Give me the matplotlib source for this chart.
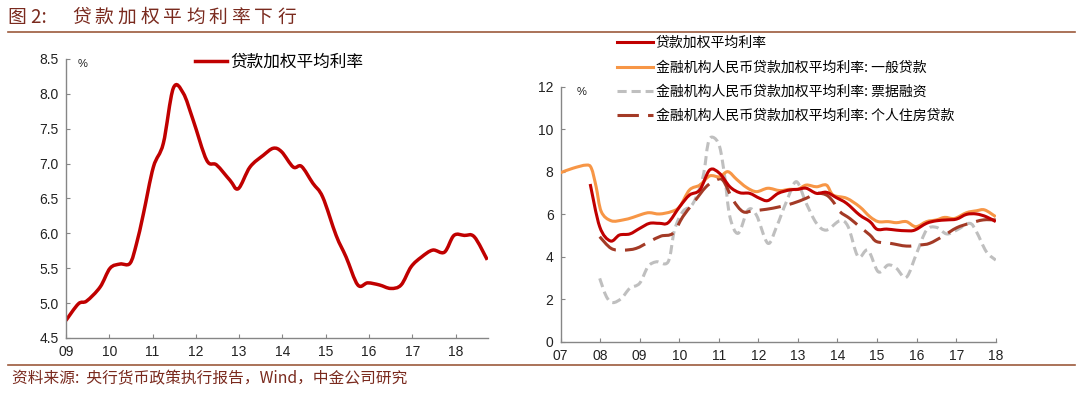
import numpy as np
import matplotlib
matplotlib.use('Agg')
from matplotlib import pyplot as plt
from matplotlib.path import Path
from matplotlib.patches import PathPatch
from matplotlib.lines import Line2D

plt.rcParams['font.family'] = ['Noto Sans CJK SC', 'DejaVu Sans']

# left panel: weighted average loan rate
left_x = [9.00, 9.29, 9.48, 9.79, 10.02, 10.25, 10.48, 10.63, 10.79, 11.02,
          11.25, 11.48, 11.71, 11.94, 12.25, 12.48, 12.79, 12.98, 13.25, 13.56,
          13.79, 13.98, 14.25, 14.44, 14.70, 14.93, 15.24, 15.47, 15.74, 15.97,
          16.24, 16.50, 16.74, 16.97, 17.21, 17.47, 17.74, 17.96, 18.20, 18.43,
          18.73]
left_y = [4.75, 4.99, 5.03, 5.23, 5.50, 5.56, 5.57, 5.85, 6.28, 6.95,
          7.29, 8.08, 8.01, 7.62, 7.05, 6.98, 6.76, 6.64, 6.95, 7.12,
          7.22, 7.17, 6.95, 6.96, 6.72, 6.52, 5.97, 5.66, 5.26, 5.29,
          5.26, 5.21, 5.26, 5.52, 5.66, 5.76, 5.73, 5.97, 5.97, 5.95,
          5.62]
left_label = '贷款加权平均利率'
left_xticks = [9, 10, 11, 12, 13, 14, 15, 16, 17, 18]
left_yticks = [4.5, 5.0, 5.5, 6.0, 6.5, 7.0, 7.5, 8.0, 8.5]

# right panel
avg_x = [7.75, 7.99, 8.26, 8.49, 8.75, 9.00, 9.25, 9.50, 9.72, 10.01,
         10.26, 10.52, 10.77, 11.02, 11.28, 11.53, 11.78, 12.03, 12.24, 12.50,
         12.79, 13.00, 13.21, 13.47, 13.72, 13.97, 14.23, 14.56, 14.82, 15.00,
         15.24, 15.49, 15.74, 15.95, 16.25, 16.50, 16.76, 17.01, 17.26, 17.51,
         17.76, 18.00]
avg_y = [7.42, 5.41, 4.74, 5.02, 5.07, 5.33, 5.57, 5.57, 5.60, 6.35,
         6.90, 7.14, 8.08, 7.92, 7.29, 7.01, 6.98, 6.75, 6.64, 6.98,
         7.14, 7.17, 7.22, 6.98, 7.03, 6.78, 6.51, 5.96, 5.65, 5.29,
         5.30, 5.25, 5.22, 5.25, 5.57, 5.69, 5.73, 5.77, 5.99, 6.01,
         5.88, 5.65]

general_x = [7.00, 7.31, 7.65, 7.78, 7.90, 8.03, 8.28, 8.58, 8.83, 9.08,
             9.25, 9.50, 9.80, 10.01, 10.26, 10.52, 10.77, 11.02, 11.23, 11.45,
             11.70, 11.95, 12.24, 12.54, 12.79, 13.00, 13.21, 13.47, 13.72, 13.89,
             14.23, 14.56, 14.82, 15.03, 15.28, 15.49, 15.74, 15.98, 16.25, 16.50,
             16.71, 16.96, 17.26, 17.51, 17.72, 18.00]
general_y = [7.95, 8.16, 8.31, 8.16, 7.29, 6.12, 5.69, 5.73, 5.85, 6.01,
             6.07, 6.01, 6.12, 6.35, 7.14, 7.37, 7.80, 7.76, 8.00, 7.64,
             7.26, 7.06, 7.22, 7.11, 7.17, 7.17, 7.37, 7.29, 7.37, 6.90,
             6.75, 6.35, 5.88, 5.65, 5.65, 5.60, 5.65, 5.41, 5.65, 5.73,
             5.85, 5.80, 6.07, 6.16, 6.20, 5.88]

bill_x = [7.99, 8.16, 8.32, 8.54, 8.75, 9.00, 9.21, 9.42, 9.72, 9.88,
          10.09, 10.35, 10.60, 10.73, 10.85, 11.02, 11.15, 11.28, 11.49, 11.74,
          11.95, 12.24, 12.46, 12.71, 12.96, 13.21, 13.47, 13.72, 14.06, 14.27,
          14.52, 14.77, 15.03, 15.28, 15.49, 15.74, 16.00, 16.25, 16.50, 16.76,
          17.01, 17.34, 17.51, 17.76, 18.00]
bill_y = [2.98, 2.12, 1.84, 2.04, 2.51, 2.75, 3.53, 3.76, 3.76, 5.25,
          6.12, 6.51, 7.76, 9.33, 9.62, 9.18, 7.76, 5.88, 5.10, 6.20,
          5.96, 4.63, 5.41, 6.59, 7.53, 6.51, 5.57, 5.25, 5.69, 5.41,
          4.00, 4.31, 3.29, 3.61, 3.45, 3.03, 4.16, 5.25, 5.38, 5.07,
          5.25, 5.57, 5.18, 4.24, 3.84]

house_x = [7.99, 8.28, 8.58, 8.91, 9.25, 9.54, 9.84, 10.09, 10.35, 10.68,
           10.94, 11.11, 11.36, 11.61, 11.86, 12.20, 12.54, 12.87, 13.21, 13.47,
           13.72, 13.89, 14.06, 14.31, 14.56, 14.82, 14.99, 15.33, 15.74, 16.08,
           16.33, 16.67, 17.01, 17.34, 17.68, 18.00]
house_y = [4.94, 4.39, 4.31, 4.39, 4.71, 4.97, 5.10, 5.88, 6.51, 7.29,
           7.61, 7.58, 6.67, 6.12, 6.16, 6.23, 6.35, 6.51, 6.75, 6.98,
           6.90, 6.59, 6.12, 5.80, 5.41, 5.02, 4.71, 4.63, 4.50, 4.55,
           4.63, 4.97, 5.36, 5.57, 5.73, 5.73]

right_labels = ['贷款加权平均利率',
                '金融机构人民币贷款加权平均利率: 一般贷款',
                '金融机构人民币贷款加权平均利率: 票据融资',
                '金融机构人民币贷款加权平均利率: 个人住房贷款']
right_xticks = [7, 8, 9, 10, 11, 12, 13, 14, 15, 16, 17, 18]
right_yticks = [0, 2, 4, 6, 8, 10, 12]

RED = '#C00000'
ORANGE = '#F79646'
GREY = '#BFBFBF'
BROWN = '#A33A26'
TITLE_C = '#7A2A1E'
AXIS_C = '#868686'


def year_label(v):
    return '%02d' % v


def smooth_line(ax, xs, ys, **kw):
    # excel style smoothed line: cubic bezier through the points
    p = np.column_stack([xs, ys]).astype(float)
    verts = [p[0]]
    codes = [Path.MOVETO]
    n = len(p)
    for i in range(n - 1):
        p0 = p[max(i - 1, 0)]
        p1 = p[i]
        p2 = p[i + 1]
        p3 = p[min(i + 2, n - 1)]
        verts += [p1 + (p2 - p0) / 6.0, p2 - (p3 - p1) / 6.0, p2]
        codes += [Path.CURVE4] * 3
    patch = PathPatch(Path(verts, codes), fill=False, capstyle='butt',
                      joinstyle='round', **kw)
    ax.add_patch(patch)
    return patch


def style_axes(ax):
    for s in ['top', 'right']:
        ax.spines[s].set_visible(False)
    for s in ['left', 'bottom']:
        ax.spines[s].set_color(AXIS_C)
        ax.spines[s].set_linewidth(1.0)
    ax.tick_params(direction='in', length=3, color=AXIS_C, labelsize=10,
                   labelcolor='#222222', pad=5)
    for lab in ax.get_xticklabels() + ax.get_yticklabels():
        lab.set_family(['Liberation Sans', 'DejaVu Sans'])


fig = plt.figure(figsize=(10.8, 3.93), dpi=100)

# left chart
ax1 = fig.add_axes([0.061, 0.14, 0.391, 0.71])
smooth_line(ax1, left_x, left_y, edgecolor=RED, lw=2.5)
ax1.set_xlim(9, 18.75)
ax1.set_ylim(4.5, 8.5)
ax1.set_xticks(left_xticks)
ax1.set_xticklabels([year_label(v) for v in left_xticks])
ax1.set_yticks(left_yticks)
ax1.set_yticklabels(['%.1f' % v for v in left_yticks])
style_axes(ax1)
ax1.text(0.028, 1.0, '%', transform=ax1.transAxes, fontsize=8, va='top',
         ha='left', color='#222222', family=['Liberation Sans'])
ax1.legend([Line2D([], [], color=RED, lw=2.5)], [left_label],
           loc='center left', bbox_to_anchor=(195 / 1080, 1 - 62 / 393),
           bbox_transform=fig.transFigure, frameon=False, fontsize=12,
           handlelength=1.9, handletextpad=0.2, borderpad=0, borderaxespad=0)

# right chart
ax2 = fig.add_axes([0.519, 0.1305, 0.403, 0.649])
smooth_line(ax2, bill_x, bill_y, edgecolor=GREY, lw=2.2, ls=(0, (3, 1.6)), zorder=2)
smooth_line(ax2, house_x, house_y, edgecolor=BROWN, lw=2.2, ls=(0, (7, 3)), zorder=3)
smooth_line(ax2, general_x, general_y, edgecolor=ORANGE, lw=2.2, zorder=3)
smooth_line(ax2, avg_x, avg_y, edgecolor=RED, lw=2.2, zorder=4)
ax2.set_xlim(7, 18)
ax2.set_ylim(0, 12)
ax2.set_xticks(right_xticks)
ax2.set_xticklabels([year_label(v) for v in right_xticks])
ax2.set_yticks(right_yticks)
style_axes(ax2)
ax2.text(0.038, 1.0, '%', transform=ax2.transAxes, fontsize=8, va='top',
         ha='left', color='#222222', family=['Liberation Sans'])
handles = [Line2D([], [], color=RED, lw=2.2),
           Line2D([], [], color=ORANGE, lw=2.2),
           Line2D([], [], color=GREY, lw=2.2, ls=(0, (3, 1.6))),
           Line2D([], [], color=BROWN, lw=2.2, ls=(0, (7, 3)))]
ax2.legend(handles, right_labels, loc='upper left',
           bbox_to_anchor=(617 / 1080, 1 - 36 / 393),
           bbox_transform=fig.transFigure, frameon=False, fontsize=10,
           handlelength=2.6, handletextpad=0.2, borderpad=0, borderaxespad=0,
           labelspacing=0.75)

# title, rules, source
fig.text(8 / 1080, 1 - 17 / 393, '图 2:', fontsize=13.5,
         color=TITLE_C, va='center', ha='left')
for i, ch in enumerate('贷款加权平均利率下行'):
    fig.text((72 + i * 22.8) / 1080, 1 - 17 / 393, ch, fontsize=13.5,
             color=TITLE_C, va='center', ha='left')
fig.add_artist(Line2D([8 / 1080, 1075 / 1080], [1 - 32 / 393] * 2,
                      color='#9C5A3C', lw=1.2))
fig.add_artist(Line2D([8 / 1080, 1075 / 1080], [1 - 365 / 393] * 2,
                      color='#9C5A3C', lw=1.2))
fig.text(12 / 1080, 1 - 379 / 393, '资料来源:  央行货币政策执行报告，Wind，中金公司研究',
         fontsize=11.3, color=TITLE_C, va='center', ha='left')

fig.savefig('out.png', dpi=100)
